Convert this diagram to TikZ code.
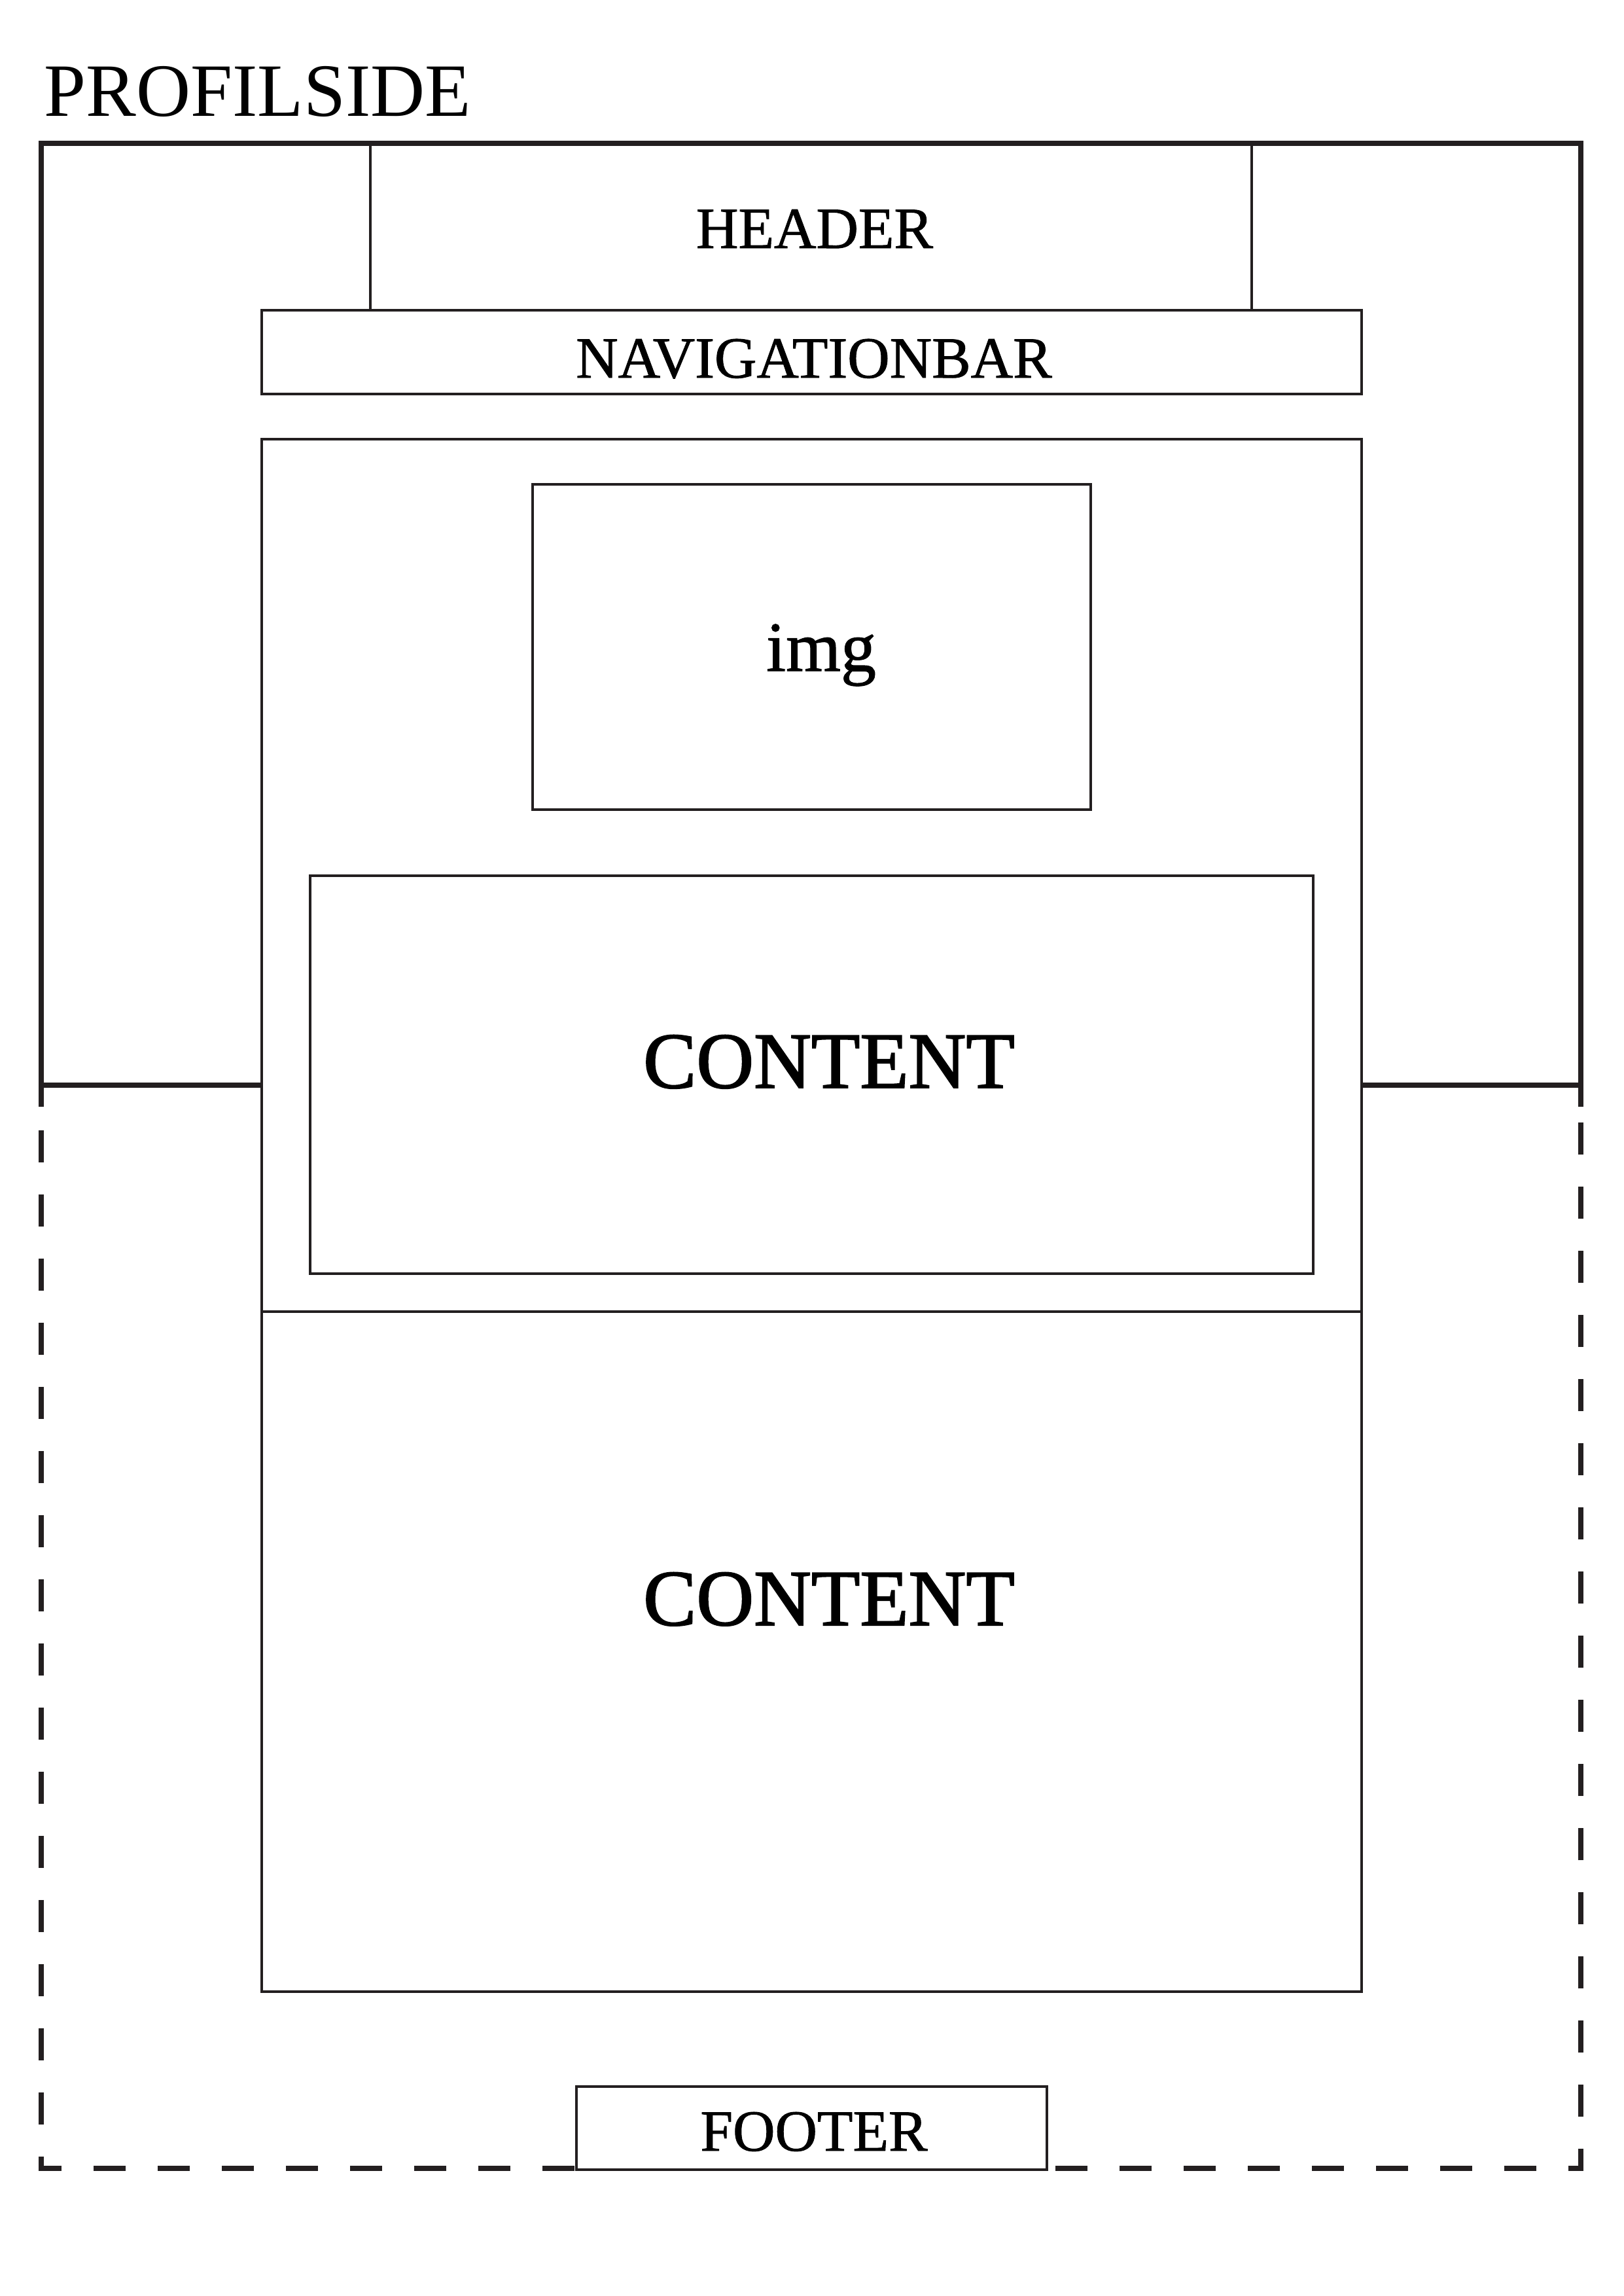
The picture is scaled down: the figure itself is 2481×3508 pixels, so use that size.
\documentclass[tikz,border=0pt]{standalone}
\usepackage{fontspec}
\setmainfont{Liberation Serif}
\newfontfamily\semifont{Liberation Serif}[FakeBold=1]
\newfontfamily\heavyfont{Liberation Serif}[FakeBold=1.6]
\usetikzlibrary{fit}
\definecolor{ink}{HTML}{231F20}
\begin{document}
\begin{tikzpicture}[x=0.0846433mm,y=-0.0846433mm,
  thin box/.style={draw=ink,line width=1pt,inner sep=0pt,outer sep=0pt},
  white box/.style={thin box,fill=white},
  thick line/.style={draw=ink,line width=1.9pt},
  dashed line/.style={draw=ink,line width=1.9pt,dash pattern=on 11.8pt off 11.8pt,dash phase=7pt},
  lbl/.style={inner sep=0pt,anchor=base,text=black},
  small lbl/.style={lbl,font=\semifont\fontsize{21.5}{24}\selectfont},
  big lbl/.style={lbl,font=\heavyfont\fontsize{29.3}{32}\selectfont}]
\useasboundingbox[fill=white] (0,0) rectangle (2481,3508);
% corner coordinates
\coordinate (otl) at (63,219);
\coordinate (otr) at (2416,219);
\coordinate (oml) at (63,1658);
\coordinate (omr) at (2416,1658);
\coordinate (obl) at (63,3313);
\coordinate (obr) at (2416,3313);
% header box
\node[thin box,fit={(566,219) (1913,474)}] (header) {};
% lower dashed part of page
\draw[dashed line] (oml) -- (obl) -- (obr) -- (omr);
% main box and second content
\node[white box,fit={(400,671) (2081,2004)}] (main) {};
\node[white box,fit={(400,2004) (2081,3043)}] (content2) {};
% solid separators
\draw[thick line] (oml) -- (main.west |- oml);
\draw[thick line] (main.east |- omr) -- (omr);
% upper solid outline
\draw[thick line,line cap=butt] ([yshift=-8pt]oml) -- (otl) -- (otr) -- ([yshift=-8pt]omr);
% navigation bar
\node[white box,fit={(400,474) (2081,602)}] (nav) {};
% img and content boxes
\node[thin box,fit={(814,740) (1667,1237)}] (img) {};
\node[thin box,fit={(474,1338) (2007,1946)}] (content1) {};
% footer
\node[white box,fit={(881,3188) (1600,3315)}] (footer) {};
% labels
\node[lbl,anchor=base west,font=\fontsize{27.7}{30}\selectfont] (title) at (67,177) {PROFILSIDE};
\node[small lbl] (headerlbl) at (1245,379) {HEADER};
\node[small lbl] (navlbl) at (1244,577) {NAVIGATIONBAR};
\node[lbl,font=\semifont\fontsize{26}{28}\selectfont] (imglbl) at (1255,1025) {img};
\node[big lbl] (content1lbl) at (1267,1662) {CONTENT};
\node[big lbl] (content2lbl) at (1267,2483) {CONTENT};
\node[small lbl] (footerlbl) at (1244,3286) {FOOTER};
\end{tikzpicture}
\end{document}
